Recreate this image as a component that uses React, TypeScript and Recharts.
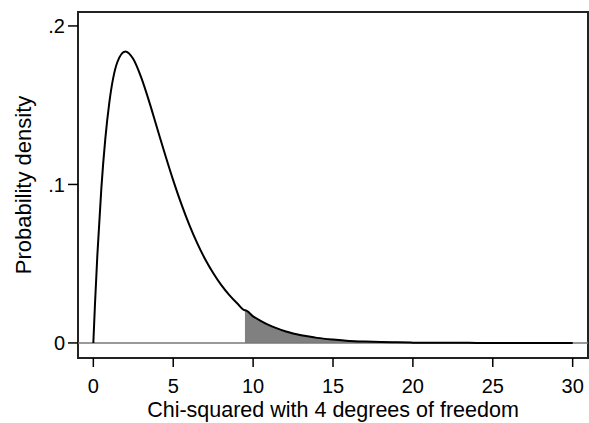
import { ComposedChart, Line, Area, XAxis, YAxis, ReferenceLine, ReferenceArea } from "recharts";

// chi-squared (4 df) density
const xValues = [
  0, 0.1, 0.25, 0.5, 0.75, 1, 1.5, 2, 2.5, 3, 3.5, 4, 4.5, 5, 5.5, 6, 6.5, 7, 7.5, 8, 8.5, 9, 9.49,
  9.5, 10, 10.5, 11, 11.5, 12, 12.5, 13, 13.5, 14, 15, 16, 17, 18, 19, 20, 21, 22, 23, 24, 25, 26,
  27, 28, 29, 30,
];
const density = [
  0, 0.0238, 0.0552, 0.0974, 0.1289, 0.1516, 0.1771, 0.1839, 0.1791, 0.1674, 0.1521, 0.1353, 0.1186,
  0.1026, 0.0879, 0.0747, 0.063, 0.0528, 0.0441, 0.0366, 0.0303, 0.025, 0.0206, 0.0206, 0.0168,
  0.0138, 0.0112, 0.0092, 0.0074, 0.006, 0.0049, 0.004, 0.0032, 0.0021, 0.0013, 0.0009, 0.0006,
  0.0004, 0.0002, 0.0001, 0.0001, 0.0001, 0, 0, 0, 0, 0, 0, 0,
];
const criticalValue = 9.49;
const xTicks = [0, 5, 10, 15, 20, 25, 30];
const yTicks = [0, 0.1, 0.2];

const xDomain = [-0.96, 30.96];
const yDomain = [-0.0095, 0.2088];

const data = xValues.map((x, i) => ({
  x,
  density: density[i],
  tail: x >= criticalValue ? density[i] : null,
}));

const font = "'Liberation Sans', Arial, Helvetica, sans-serif";

const YTitle = (props: any) => {
  const vb = props.viewBox;
  const cx = vb.x + 23;
  const cy = vb.y + vb.height / 2;
  return (
    <text
      x={cx}
      y={cy}
      transform={`rotate(-90 ${cx} ${cy})`}
      textAnchor="middle"
      dominantBaseline="central"
      fontSize={22}
      fontFamily={font}
      fill="#000"
    >
      Probability density
    </text>
  );
};

export default function App() {
  return (
    <div style={{ position: "absolute", left: 0, top: 0, background: "#fff" }}>
      <ComposedChart
        width={589}
        height={423}
        data={data}
        margin={{ top: 12, right: 1, bottom: 0, left: 0 }}
      >
        <XAxis
          dataKey="x"
          type="number"
          domain={xDomain}
          ticks={xTicks}
          allowDataOverflow
          axisLine={false}
          tickSize={9}
          tickMargin={12}
          height={65}
          tickLine={{ stroke: "#000", strokeWidth: 1.5 }}
          tick={{ fontSize: 20, fontFamily: font, fill: "#000" }}
          label={{
            value: "Chi-squared with 4 degrees of freedom",
            position: "insideBottom",
            offset: 6.5,
            fontSize: 21.5,
            fontFamily: font,
            fill: "#000",
          }}
        />
        <YAxis
          type="number"
          domain={yDomain}
          ticks={yTicks}
          allowDataOverflow
          axisLine={false}
          width={78}
          tickSize={10}
          tickMargin={3}
          tickLine={{ stroke: "#000", strokeWidth: 1.5 }}
          tickFormatter={(v: number) => (v === 0 ? "0" : String(v).replace(/^0/, ""))}
          tick={{ fontSize: 20, fontFamily: font, fill: "#000" }}
          label={<YTitle />}
        />
        <Area
          dataKey="tail"
          type="monotone"
          stroke="#7a7a7a"
          strokeWidth={1}
          fill="#808080"
          fillOpacity={1}
          isAnimationActive={false}
          dot={false}
          activeDot={false}
        />
        <ReferenceLine y={0} stroke="#777" strokeWidth={1.5} />
        <Line
          dataKey="density"
          type="monotone"
          stroke="#000"
          strokeWidth={2}
          dot={false}
          activeDot={false}
          isAnimationActive={false}
        />
        <ReferenceArea
          x1={xDomain[0]}
          x2={xDomain[1]}
          y1={yDomain[0]}
          y2={yDomain[1]}
          stroke="#222"
          strokeWidth={2}
          fill="none"
          fillOpacity={0}
        />
      </ComposedChart>
    </div>
  );
}
